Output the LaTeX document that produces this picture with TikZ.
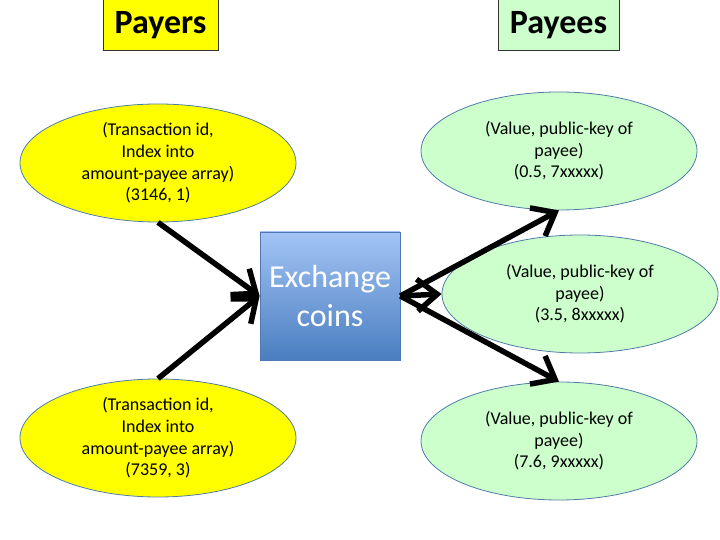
\documentclass[tikz,border=0pt]{standalone}
\usepackage{fontspec}
\setmainfont{Carlito}
\usetikzlibrary{shapes.geometric,arrows.meta}

\definecolor{payeryellow}{RGB}{255,255,0}
\definecolor{payeegreen}{RGB}{204,255,204}
\definecolor{ovaledge}{RGB}{80,125,165}
\definecolor{boxtop}{RGB}{163,196,245}
\definecolor{boxbottom}{RGB}{74,126,192}
\definecolor{boxedge}{RGB}{80,120,180}

\tikzset{
    title/.style={
           rectangle,
           draw=black!80, line width=1pt,
           minimum height=51pt,
           inner sep=0pt,
           font=\fontsize{34}{40}\selectfont\bfseries,
           },
    payer/.style={
           ellipse,
           draw=ovaledge, line width=0.8pt,
           fill=payeryellow,
           minimum width=276pt, minimum height=118pt,
           inner sep=0pt,
           align=center,
           font=\fontsize{18}{21.6}\selectfont,
           },
    payee/.style={
           payer,
           fill=payeegreen,
           },
    exchange/.style={
           rectangle,
           draw=boxedge, line width=0.8pt,
           top color=boxtop, bottom color=boxbottom,
           minimum width=140pt, minimum height=128pt,
           text=white,
           align=center,
           font=\fontsize{32}{38.4}\selectfont,
           },
    flow/.style={
           line width=5.5pt,
           -{Straight Barb[length=20pt,width=32pt,line width=5.5pt]},
           },
}

\begin{document}
\begin{tikzpicture}[x=1pt,y=1pt]
       \useasboundingbox (0,0) rectangle (720,540);

       \node[title, fill=payeryellow, minimum width=115pt] (PAYERS) at (160.5,514.5) {Payers};
       \node[title, fill=payeegreen, minimum width=121pt] (PAYEES) at (558.5,514.5) {Payees};

       \node[exchange] (EXCHANGE) at (330,244) {Exchange\\coins};

       \node[payer] (PAYER1) at ([xshift=-172pt,yshift=133pt]EXCHANGE.center)
       {%
               (Transaction id,\\Index into\\amount-payee array)\\(3146, 1)%
       };

       \node[payer] (PAYER2) at ([xshift=-172pt,yshift=-142pt]EXCHANGE.center)
       {%
               (Transaction id,\\Index into\\amount-payee array)\\(7359, 3)%
       };

       \node[payee] (PAYEE1) at ([xshift=229pt,yshift=145pt]EXCHANGE.center)
       {%
               (Value, public-key of\\payee)\\(0.5, 7xxxxx)%
       };

       \node[payee] (PAYEE2) at ([xshift=250pt,yshift=2pt]EXCHANGE.center)
       {%
               (Value, public-key of\\payee)\\(3.5, 8xxxxx)%
       };

       \node[payee] (PAYEE3) at ([xshift=229pt,yshift=-145pt]EXCHANGE.center)
       {%
               (Value, public-key of\\payee)\\(7.6, 9xxxxx)%
       };

       \draw[flow] (PAYER1.south) -- (EXCHANGE.west);
       \draw[flow] (PAYER2.north) -- (EXCHANGE.west);
       \draw[flow] (EXCHANGE.east) -- (PAYEE1.south);
       \draw[flow] (EXCHANGE.east) -- (PAYEE2.west);
       \draw[flow] (EXCHANGE.east) -- (PAYEE3.north);

\end{tikzpicture}
\end{document}
